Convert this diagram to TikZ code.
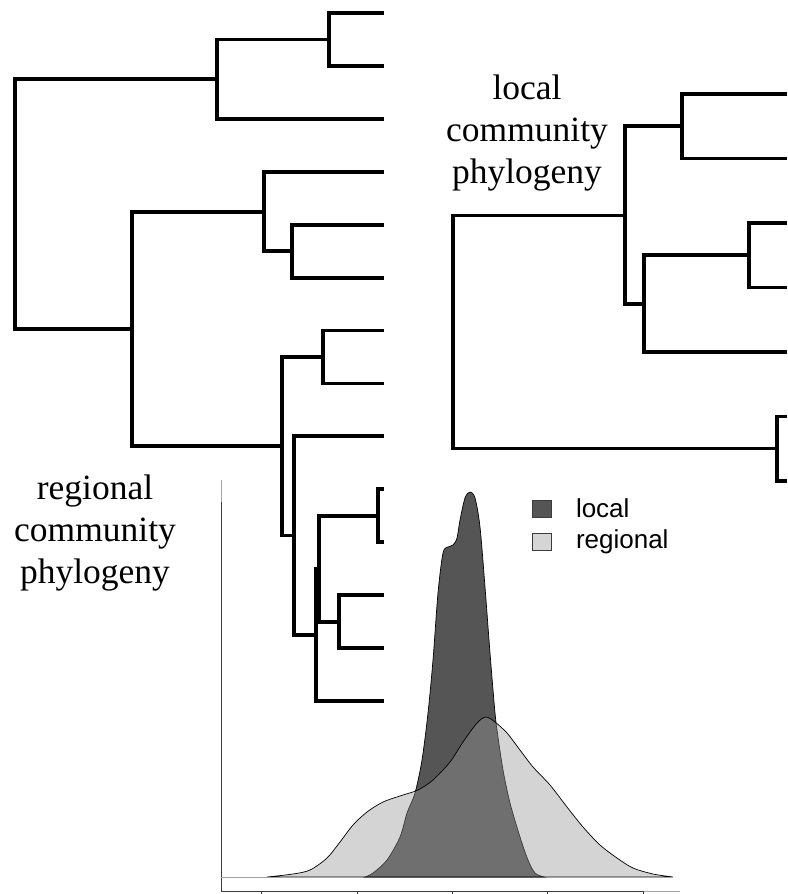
\documentclass[tikz,border=0pt]{standalone}
\usepackage{fontspec}
\setmainfont{Liberation Serif}
\newfontfamily\legendfont{Liberation Sans}
\usetikzlibrary{positioning}
\definecolor{LocalGray}{RGB}{85,85,85}
\definecolor{RegionGray}{RGB}{149,149,149}
\definecolor{AxisGray}{RGB}{165,165,165}
\definecolor{AxisDark}{RGB}{60,60,60}

\begin{document}
\begin{tikzpicture}[x=1pt, y=-1pt,
          branch/.style={line width=3.8pt, line join=miter},
          lbl/.style={font=\fontsize{35.5}{42}\selectfont, align=center, inner sep=0pt},
          axisline/.style={line width=0.8pt, AxisDark},
          curve/.style={line width=0.7pt, black},
          keybox/.style={minimum width=19pt, minimum height=17pt, inner sep=0pt, draw=AxisDark, line width=0.6pt},
          keytext/.style={font=\legendfont\fontsize{26}{30}\selectfont, inner sep=0pt}
        ]
        \useasboundingbox (0,0) rectangle (787,894);

        % regional community phylogeny
        \foreach \i in {1,...,14}
          \coordinate (t\i) at (384, {13+52.92*(\i-1)});
        \coordinate (rr)  at (15, 204);
        \coordinate (A)   at (217, 79.2);
        \coordinate (A1)  at (329, 39.5);
        \coordinate (B)   at (132, 329);
        \coordinate (B1)  at (264, 211.9);
        \coordinate (B11) at (292, 251.2);
        \coordinate (B2)  at (282, 446.2);
        \coordinate (B21) at (323, 357);
        \coordinate (B22) at (294, 535.5);
        \coordinate (B23) at (316, 634.7);
        \coordinate (B24) at (319, 568.6);
        \coordinate (B25) at (378, 515.8);
        \coordinate (B26) at (339, 621.6);
        \foreach \p/\c in {rr/A, rr/B, A/A1, A/t3, A1/t1, A1/t2,
                           B/B1, B/B2, B1/t4, B1/B11, B11/t5, B11/t6,
                           B2/B21, B2/B22, B21/t7, B21/t8, B22/t9, B22/B23,
                           B23/B24, B23/t14, B24/B25, B24/B26,
                           B25/t10, B25/t11, B26/t12, B26/t13}
          \draw[branch] (\p) |- (\c);
        \node[lbl] (reglbl) at (95, 533) {regional\\community\\phylogeny};

        % local community phylogeny
        \foreach \i in {1,...,7}
          \coordinate (u\i) at (787, {94+64.5*(\i-1)});
        \coordinate (L0) at (453, 332);
        \coordinate (La) at (625, 215.5);
        \coordinate (Lb) at (777, 448.5);
        \coordinate (Lc) at (682, 126.3);
        \coordinate (Ld) at (644, 304);
        \coordinate (Le) at (749, 255.3);
        \foreach \p/\c in {L0/La, L0/Lb, La/Lc, La/Ld, Lc/u1, Lc/u2,
                           Ld/Le, Ld/u5, Le/u3, Le/u4, Lb/u6, Lb/u7}
          \draw[branch] (\p) |- (\c);
        \node[lbl] (loclbl) at (527, 133) {local\\community\\phylogeny};

        % density plot
        \draw[axisline] (221,502) -- (221,891);
        \draw[line width=0.8pt, AxisGray] (221,480) -- (221,502);
        \draw[line width=0.8pt, AxisGray] (221,877) -- (267,877);
        \draw[axisline] (221,891) -- (643,891);
        \draw[line width=0.8pt, AxisGray] (643,891) -- (680,891);
        \foreach \tx in {261,357,452,547,643}
          \draw[axisline] (\tx,891) -- (\tx,898);

        \draw[curve, fill=LocalGray] plot[smooth, tension=0.5] coordinates {
              (365,877) (373,873) (387,860) (400,837) (407,813) (415,793)
              (422,760) (428,713) (433,660) (438,593) (443,553) (448,547)
              (453,545) (457,538) (460,520) (465,498) (470,492) (475,498)
              (480,527) (485,587) (490,653) (495,713) (498,737) (503,770)
              (510,803) (520,837) (528,860) (535,873) (544,877)} -- cycle;
        \draw[curve, fill=RegionGray, fill opacity=0.406] plot[smooth, tension=0.5] coordinates {
              (267,877) (293,874) (310,870) (327,858) (340,842) (353,825)
              (367,812) (383,802) (403,795) (418,790) (433,780) (450,762)
              (463,742) (477,723) (486,717) (495,722) (507,733) (520,750)
              (533,767) (550,785) (567,807) (583,827) (600,845) (617,858)
              (633,868) (653,874) (673,877)} -- cycle;

        % legend
        \node[keybox, fill=LocalGray]           (keyloc) at (542, 508.5) {};
        \node[keybox, fill=RegionGray!40!white] (keyreg) at (542, 541.5) {};
        \node[keytext, right=24pt of keyloc] (txtloc) {local};
        \node[keytext, right=24pt of keyreg] (txtreg) {regional};
      \end{tikzpicture}
\end{document}
